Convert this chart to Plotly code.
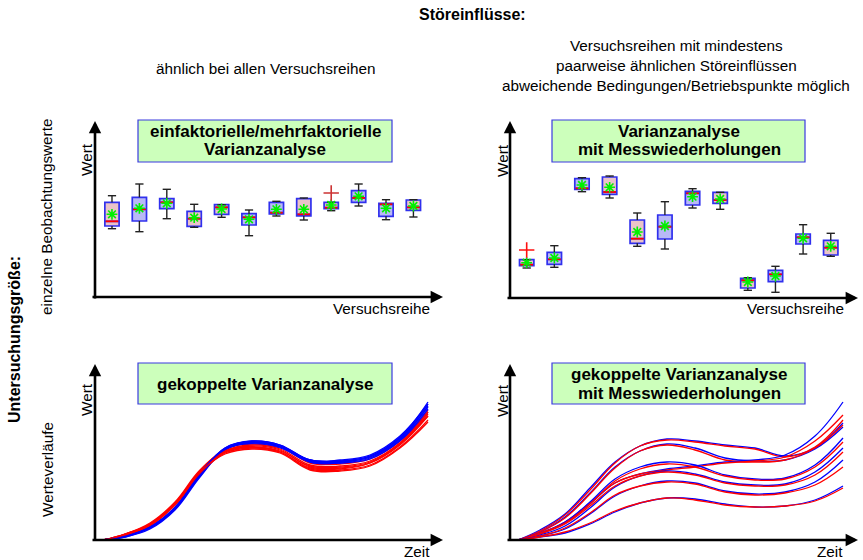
import plotly.graph_objects as go

W, H = 863, 560
FONT = "Liberation Sans, Arial, sans-serif"

# ---------------- Data: top-left panel (einfaktorielle/mehrfaktorielle Varianzanalyse) ----------------
versuchsreihe = list(range(1, 13))
box_fill_kind = ["p", "b", "b", "p", "p", "b", "b", "p", "p", "b", "b", "p"]

tl_upper = [102.3, 114.0, 108.7, 93.7, 93.3, 88.0, 96.7, 100.0, 95.7, 114.0, 98.3, 98.3]
tl_q3 = [95.7, 100.7, 99.3, 86.7, 93.3, 84.3, 95.7, 99.3, 95.7, 107.3, 94.7, 98.0]
tl_median = [76.7, 88.7, 95.7, 79.3, 90.7, 80.7, 85.3, 83.7, 90.3, 100.0, 93.7, 90.7]
tl_q1 = [72.0, 77.0, 89.3, 71.7, 83.7, 73.0, 84.0, 82.0, 89.3, 95.7, 81.7, 87.7]
tl_lower = [69.3, 66.3, 79.3, 70.7, 80.7, 62.3, 82.0, 78.0, 87.3, 92.0, 78.3, 81.0]
tl_mean = [83.7, 89.7, 94.7, 80.3, 89.0, 78.7, 88.7, 88.7, 93.0, 101.7, 89.7, 92.0]
tl_outlier_x = [9]
tl_outlier_y = [105.0]

# ---------------- Data: top-right panel (Varianzanalyse mit Messwiederholungen) ----------------
tr_upper = [38.3, 52.3, 120.3, 122.0, 85.0, 96.3, 109.3, 105.7, 20.3, 31.7, 73.3, 64.7]
tr_q3 = [38.3, 45.7, 119.3, 121.0, 78.0, 83.0, 106.7, 105.7, 19.7, 27.7, 64.0, 57.7]
tr_median = [33.3, 38.7, 109.7, 106.0, 59.3, 71.3, 104.7, 98.0, 17.7, 23.7, 60.7, 50.3]
tr_q1 = [32.3, 33.7, 108.7, 103.7, 54.7, 59.0, 93.0, 94.7, 10.0, 16.3, 54.0, 43.0]
tr_lower = [30.0, 30.7, 106.3, 100.0, 51.7, 49.0, 90.0, 88.7, 7.7, 5.7, 44.0, 41.7]
tr_mean = [35.3, 40.0, 113.0, 110.7, 66.0, 72.0, 101.3, 99.0, 16.0, 22.0, 59.7, 51.7]
tr_outlier_x = [1]
tr_outlier_y = [48.0]

# ---------------- Data: bottom panels (Werteverläufe über der Zeit) ----------------
zeit = [8, 30, 55, 80, 105, 130, 157, 185, 215, 245, 275, 305, 333]

# gekoppelte Varianzanalyse (alternating blue / red runs)
bl_curves = [
    ("b", [0, 4, 12, 31, 65, 92, 99, 95, 80, 79, 84, 103, 138]),
    ("r", [0, 6, 16, 37, 69, 91, 97, 93, 77, 76, 81, 99, 130]),
    ("b", [0, 4, 13, 32, 66, 92, 98, 94, 79, 78, 83, 101, 134]),
    ("r", [0, 5, 15, 36, 67, 88, 94, 90, 73, 72, 77, 95, 124]),
    ("b", [0, 3, 11, 30, 63, 90, 97, 93, 79, 78, 83, 102, 136]),
    ("r", [0, 6, 17, 38, 70, 89, 93, 88, 71, 70, 75, 93, 120]),
    ("b", [0, 4, 13, 33, 67, 91, 96, 92, 78, 77, 82, 100, 131]),
    ("r", [0, 5, 14, 35, 66, 87, 92, 88, 72, 71, 77, 96, 126]),
    ("b", [0, 3, 12, 31, 64, 90, 98, 94, 80, 79, 84, 102, 133]),
    ("r", [0, 6, 16, 37, 68, 86, 91, 87, 70, 69, 74, 92, 118]),
    ("b", [0, 4, 13, 32, 66, 91, 97, 93, 78, 77, 81, 99, 128]),
    ("r", [0, 5, 15, 36, 67, 89, 95, 91, 75, 74, 79, 97, 128]),
    ("b", [0, 4, 13, 32, 66, 91, 99, 95, 80, 80, 85, 104, 136]),
    ("r", [0, 5, 15, 36, 67, 88, 93, 89, 74, 73, 78, 97, 124]),
]

# gekoppelte Varianzanalyse mit Messwiederholungen (pairs of blue / red runs)
br_curves = [
    ("b", [0, 10, 26, 52, 78, 94, 101, 99, 95, 92, 84, 92, 117]),
    ("r", [0, 9, 25, 50, 77, 94, 100, 98, 94, 91, 83, 93, 120]),
    ("b", [0, 8, 23, 47, 73, 89, 96, 92, 82, 79, 80, 91, 113]),
    ("r", [0, 8, 22, 46, 72, 89, 95, 90, 80, 78, 80, 92, 115]),
    ("b", [0, 6, 17, 36, 57, 66, 71, 74, 78, 80, 85, 104, 138]),
    ("r", [0, 6, 18, 37, 57, 66, 70, 73, 77, 79, 83, 99, 125]),
    ("b", [0, 7, 18, 38, 61, 73, 78, 75, 65, 61, 62, 75, 102]),
    ("r", [0, 7, 17, 36, 59, 71, 76, 73, 64, 60, 61, 73, 98]),
    ("b", [0, 5, 14, 32, 53, 64, 69, 66, 58, 55, 56, 68, 92]),
    ("r", [0, 6, 16, 34, 54, 64, 68, 65, 57, 54, 55, 65, 88]),
    ("b", [0, 4, 11, 26, 44, 54, 59, 57, 49, 46, 48, 58, 80]),
    ("r", [0, 4, 12, 27, 45, 54, 58, 56, 48, 45, 47, 55, 73]),
    ("b", [0, 3, 7, 16, 28, 37, 42, 41, 36, 33, 34, 40, 54]),
    ("r", [0, 3, 8, 17, 29, 37, 42, 40, 35, 33, 34, 39, 52]),
]

# ---------------- Styles ----------------
PINK = "#eac3c8"
LBLUE = "#b9b9f6"
BORDER = "#3030ee"
BOXW = 0.52
CAP = 0.15
LINE_COL = {"b": "#0000ff", "r": "#ff0000"}


def px(x):
    return x / W


def py(y):
    return 1 - y / H


fig = go.Figure()

# axes domains (pixel positions of the schematic panels)
panels = {
    "tl": dict(x="x", y="y", xd=(95, 440), yd=(298, 122), xr=(0.38, 12.97), yr=(0, 176)),
    "tr": dict(x="x2", y="y2", xd=(510, 857), yd=(298, 122), xr=(0.396, 12.95), yr=(0, 176)),
    "bl": dict(x="x3", y="y3", xd=(95, 440), yd=(540, 362), xr=(0, 345), yr=(0, 178)),
    "br": dict(x="x4", y="y4", xd=(510, 857), yd=(540, 362), xr=(0, 347), yr=(0, 178)),
}


def add_boxes(p, upper, q3, med, q1, lower, mean, ox, oy, out_col):
    # whiskers
    wx, wy = [], []
    for i, xv in enumerate(versuchsreihe):
        if upper[i] > q3[i]:
            wx += [xv, xv, None]
            wy += [q3[i], upper[i], None]
        wx += [xv - CAP, xv + CAP, None]
        wy += [upper[i], upper[i], None]
        if lower[i] < q1[i]:
            wx += [xv, xv, None]
            wy += [q1[i], lower[i], None]
        wx += [xv - CAP, xv + CAP, None]
        wy += [lower[i], lower[i], None]
    fig.add_trace(go.Scatter(x=wx, y=wy, mode="lines", line=dict(color="#222222", width=1.4),
                             xaxis=p["x"], yaxis=p["y"], showlegend=False, hoverinfo="skip"))
    # boxes
    for i, xv in enumerate(versuchsreihe):
        fig.add_trace(go.Box(
            x=[xv], q1=[q1[i]], median=[med[i]], q3=[q3[i]],
            lowerfence=[q1[i]], upperfence=[q3[i]],
            width=BOXW, whiskerwidth=0, boxpoints=False,
            fillcolor=PINK if box_fill_kind[i] == "p" else LBLUE,
            line=dict(color=BORDER, width=1.7),
            xaxis=p["x"], yaxis=p["y"], showlegend=False, hoverinfo="skip"))
    # medians
    mx, my = [], []
    for i, xv in enumerate(versuchsreihe):
        mx += [xv - BOXW / 2 + 0.03, xv + BOXW / 2 - 0.03, None]
        my += [med[i], med[i], None]
    fig.add_trace(go.Scatter(x=mx, y=my, mode="lines", line=dict(color="#ff0000", width=1.8),
                             xaxis=p["x"], yaxis=p["y"], showlegend=False, hoverinfo="skip"))
    # means
    fig.add_trace(go.Scatter(x=versuchsreihe, y=mean, mode="markers",
                             marker=dict(symbol="asterisk", size=9, line=dict(color="#00f000", width=1.6)),
                             xaxis=p["x"], yaxis=p["y"], showlegend=False, hoverinfo="skip"))
    # outliers
    fig.add_trace(go.Scatter(x=ox, y=oy, mode="markers",
                             marker=dict(symbol="cross-thin", size=11, line=dict(color=out_col, width=1.6)),
                             xaxis=p["x"], yaxis=p["y"], showlegend=False, hoverinfo="skip"))


add_boxes(panels["tl"], tl_upper, tl_q3, tl_median, tl_q1, tl_lower, tl_mean,
          tl_outlier_x, tl_outlier_y, "#cc3333")
add_boxes(panels["tr"], tr_upper, tr_q3, tr_median, tr_q1, tr_lower, tr_mean,
          tr_outlier_x, tr_outlier_y, "#ff1010")

for key, curves in (("bl", bl_curves), ("br", br_curves)):
    p = panels[key]
    for col, vals in curves:
        fig.add_trace(go.Scatter(x=zeit, y=vals, mode="lines",
                                 line=dict(color=LINE_COL[col], width=1.3, shape="spline", smoothing=1.1),
                                 xaxis=p["x"], yaxis=p["y"], showlegend=False, hoverinfo="skip"))

layout_axes = {}
for i, key in enumerate(["tl", "tr", "bl", "br"]):
    p = panels[key]
    sfx = "" if i == 0 else str(i + 1)
    layout_axes["xaxis" + sfx] = dict(domain=[px(p["xd"][0]), px(p["xd"][1])], range=list(p["xr"]),
                                      visible=False, anchor=p["y"], fixedrange=True)
    layout_axes["yaxis" + sfx] = dict(domain=[py(p["yd"][0]), py(p["yd"][1])], range=list(p["yr"]),
                                      visible=False, anchor=p["x"], fixedrange=True)

annotations = []
shapes = []

# axis arrows (tip, tail) in pixels
arrows = [
    ((95, 121), (95, 300)), ((443, 297), (91, 297)),
    ((510, 121), (510, 300)), ((858, 298), (506, 298)),
    ((95, 364), (95, 542)), ((443, 540), (91, 540)),
    ((510, 364), (510, 542)), ((858, 540), (506, 540)),
]
for (tx, ty), (sx, sy) in arrows:
    annotations.append(dict(x=px(tx), y=py(ty), xref="paper", yref="paper", axref="pixel", ayref="pixel",
                            ax=sx - tx, ay=sy - ty, text="", showarrow=True, arrowhead=2, arrowsize=0.95,
                            arrowwidth=2.6, arrowcolor="#000000", standoff=0, startstandoff=0))


def text(x, y, s, size=15, bold=False, angle=0, color="#000000"):
    annotations.append(dict(x=px(x), y=py(y), xref="paper", yref="paper", text=s, showarrow=False,
                            xanchor="center", yanchor="middle", textangle=angle,
                            font=dict(family=FONT, size=size, color=color,
                                      weight="bold" if bold else "normal")))


# title boxes
for (x0, y0, x1, y1) in [(138, 120, 392, 162), (552, 120, 805, 162), (138, 363, 392, 404), (552, 363, 805, 404)]:
    shapes.append(dict(type="rect", xref="paper", yref="paper", x0=px(x0), x1=px(x1), y0=py(y1), y1=py(y0),
                       fillcolor="#ccffbb", line=dict(color="#3a3ae0", width=1.2), layer="above"))

TS = 17
text(265, 131, "einfaktorielle/mehrfaktorielle", TS, True)
text(265, 150, "Varianzanalyse", TS, True)
text(679, 131, "Varianzanalyse", TS, True)
text(679, 150, "mit Messwiederholungen", TS, True)
text(265, 384, "gekoppelte Varianzanalyse", TS, True)
text(679, 374, "gekoppelte Varianzanalyse", TS, True)
text(679, 393, "mit Messwiederholungen", TS, True)

# headers
text(472, 14, "Störeinflüsse:", 16, True)
text(265, 68, "ähnlich bei allen Versuchsreihen", 15.3)
text(676, 45, "Versuchsreihen mit mindestens", 15.3)
text(676, 65, "paarweise ähnlichen Störeinflüssen", 15.3)
text(676, 85, "abweichende Bedingungen/Betriebspunkte möglich", 15.3)

# left side labels
text(14, 340, "Untersuchungsgröße:", 16, True, -90)
text(47, 217, "einzelne Beobachtungswerte", 15.3, False, -90)
text(47, 470, "Werteverläufe", 15.3, False, -90)

# axis labels
text(86, 160, "Wert", 15.3, False, -90)
text(502, 160, "Wert", 15.3, False, -90)
text(86, 400, "Wert", 15.3, False, -90)
text(502, 400, "Wert", 15.3, False, -90)
text(381, 308, "Versuchsreihe", 15.3)
text(795, 308, "Versuchsreihe", 15.3)
text(417, 551, "Zeit", 15.3)
text(830, 551, "Zeit", 15.3)

fig.update_layout(width=W, height=H, autosize=False, margin=dict(l=0, r=0, t=0, b=0),
                  paper_bgcolor="white", plot_bgcolor="rgba(0,0,0,0)", showlegend=False,
                  boxmode="overlay", annotations=annotations, shapes=shapes, **layout_axes)

fig.write_html("out.html", config={"displayModeBar": False})
